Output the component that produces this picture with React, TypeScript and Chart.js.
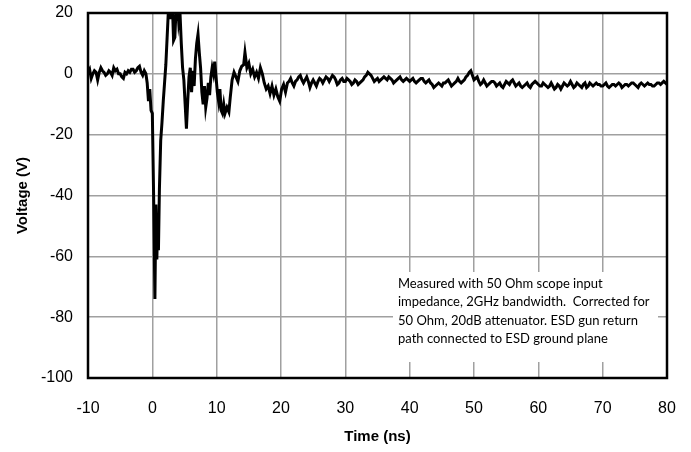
import React, { useEffect, useRef } from "react";
import { Chart, registerables } from "chart.js";

Chart.register(...registerables);

// ---- data ----
const preTimes = [
  -10, -9.75, -9.5, -9.25, -9, -8.75, -8.5, -8.25, -8, -7.75, -7.5, -7.25, -7, -6.75, -6.5, -6.25, -6, -5.75,
  -5.5, -5.25, -5, -4.75, -4.5, -4.25, -4, -3.75, -3.5, -3.25, -3, -2.75, -2.5, -2.25, -2, -1.75, -1.5, -1.25,
];
const preVolts = [
  0.5, 1.5, -1.5, 0, 1, 0.5, -2, 0.5, 2, 1, 0.5, -0.5, 0, 1, 0.5, -0.5, 2, 1,
  1.5, 0, 0, -1, -1.5, 0.5, 0, 1, 0.5, 1.5, 1.5, 0.5, 1, 2, 2.5, 0.5, -0.5, 1,
];

const eventTimes = [
  -1.0, -0.8, -0.6, -0.4, -0.2, 0.0, 0.2, 0.4, 0.55, 0.7, 0.85, 0.95, 1.1, 1.3, 1.5, 1.7, 1.9, 2.1, 2.3, 2.5,
  2.7, 2.9, 3.1, 3.3, 3.5, 3.7, 3.9, 4.1, 4.3, 4.5, 4.7, 4.9, 5.1, 5.3, 5.5, 5.7, 5.9, 6.1, 6.3, 6.5,
  6.7, 6.9, 7.1, 7.3, 7.5, 7.7, 7.9, 8.1, 8.3, 8.5, 8.7, 8.9, 9.1, 9.3, 9.5, 9.7, 9.9, 10.1, 10.3, 10.5,
  10.7, 10.9, 11.1, 11.3, 11.6, 11.9, 12.1, 12.4, 12.7, 13.0, 13.3, 13.6, 13.9, 14.2, 14.4, 14.7, 15.0, 15.3, 15.6, 15.9,
  16.2, 16.5, 16.8, 17.1, 17.4, 17.7, 18.0, 18.3, 18.6, 18.9, 19.2, 19.5, 19.8, 20.1, 20.4, 20.7, 21.0,
];
const eventVolts = [
  0, -3, -9, -5, -12, -13, -40, -74, -43, -61, -47, -58, -38, -22, -16, -9, -3, 3, 12, 21,
  23, 18, 24, 11, 12, 22, 24, 17, 20, 10, 2, -2, -10, -18, -9, -1, 2, -6, 1, -4,
  5, 10, 13, 7, 2, -6, -10, -4, -11, -8, -3, -7, -1, 2, 0, 4, -1, -6, -9, -5,
  -12, -13, -10, -13, -11, -12.5, -8, -2, 0.5, -1, -2.5, 1, 2.5, 3, 7, 2, 3.5, 0, 1.5, -1,
  0.5, -1.5, 2, 0, -3, -5, -4, -6.5, -4, -7, -5, -7.5, -9, -5, -3.5, -6, -3,
];

const tailTimes = [
  21.25, 21.5, 21.75, 22, 22.25, 22.5, 22.75, 23, 23.25, 23.5, 23.75, 24, 24.25, 24.5, 24.75, 25, 25.25, 25.5, 25.75, 26,
  26.25, 26.5, 26.75, 27, 27.25, 27.5, 27.75, 28, 28.25, 28.5, 28.75, 29, 29.25, 29.5, 29.75, 30, 30.25, 30.5, 30.75, 31,
  31.25, 31.5, 31.75, 32, 32.25, 32.5, 32.75, 33, 33.25, 33.5, 33.75, 34, 34.25, 34.5, 34.75, 35, 35.25, 35.5, 35.75, 36,
  36.25, 36.5, 36.75, 37, 37.25, 37.5, 37.75, 38, 38.25, 38.5, 38.75, 39, 39.25, 39.5, 39.75, 40, 40.25, 40.5, 40.75, 41,
  41.25, 41.5, 41.75, 42, 42.25, 42.5, 42.75, 43, 43.25, 43.5, 43.75, 44, 44.25, 44.5, 44.75, 45, 45.25, 45.5, 45.75, 46,
  46.25, 46.5, 46.75, 47, 47.25, 47.5, 47.75, 48, 48.25, 48.5, 48.75, 49, 49.25, 49.5, 49.75, 50, 50.25, 50.5, 50.75, 51,
  51.25, 51.5, 51.75, 52, 52.25, 52.5, 52.75, 53, 53.25, 53.5, 53.75, 54, 54.25, 54.5, 54.75, 55, 55.25, 55.5, 55.75, 56,
  56.25, 56.5, 56.75, 57, 57.25, 57.5, 57.75, 58, 58.25, 58.5, 58.75, 59, 59.25, 59.5, 59.75, 60, 60.25, 60.5, 60.75, 61,
  61.25, 61.5, 61.75, 62, 62.25, 62.5, 62.75, 63, 63.25, 63.5, 63.75, 64, 64.25, 64.5, 64.75, 65, 65.25, 65.5, 65.75, 66,
  66.25, 66.5, 66.75, 67, 67.25, 67.5, 67.75, 68, 68.25, 68.5, 68.75, 69, 69.25, 69.5, 69.75, 70, 70.25, 70.5, 70.75, 71,
  71.25, 71.5, 71.75, 72, 72.25, 72.5, 72.75, 73, 73.25, 73.5, 73.75, 74, 74.25, 74.5, 74.75, 75, 75.25, 75.5, 75.75, 76,
  76.25, 76.5, 76.75, 77, 77.25, 77.5, 77.75, 78, 78.25, 78.5, 78.75, 79, 79.25, 79.5, 79.75, 80,
];
const tailVolts = [
  -2.5, -1.5, -3, -4, -2.5, -2, -1, -0.5, -2, -3, -2, -1, -2.5, -4.5, -3, -2, -3, -4, -2.5, -1.5,
  -2, -3, -2, -1, -1.5, -2.5, -1.5, -0.5, -1, -2, -3.5, -3, -2, -1.5, -2.5, -2.5, -1.5, -2, -2.5, -3.5,
  -3, -2, -2.5, -3.5, -3, -2.5, -2, -1, -0.5, 0.5, 0, -0.5, -1.5, -2.5, -2, -1.5, -2.5, -2, -1.5, -1,
  -1.5, -2, -1, -1.5, -2, -3, -2.5, -2, -1.5, -1, -2, -2.5, -2, -1.5, -2, -2.5, -2, -1.5, -2.5, -3,
  -2.5, -2, -1.5, -1.5, -2.5, -3, -2.5, -2, -3, -3.5, -4.5, -4, -3.5, -3, -3.5, -4, -3, -3, -2.5, -2,
  -3, -4, -3.5, -3, -2.5, -1.5, -2.5, -3, -2.5, -2, -1, -0.5, 0.5, 1, -0.5, -2, -1.5, -1, -2.5, -3.5,
  -3, -2, -3, -4, -3.5, -3, -2.5, -2.5, -3, -4, -3.5, -3, -4, -4.5, -3.5, -2.5, -3, -3.5, -2.5, -2,
  -3, -4, -3.5, -3, -4, -4.5, -4, -3.5, -3, -4, -4.5, -3.5, -3, -2.5, -3, -3.5, -4, -4, -3, -3.5,
  -4, -4.5, -4, -3, -4, -5, -4.5, -3.5, -4, -5, -4, -3, -3.5, -4, -3.5, -2.5, -3.5, -4.5, -4, -3,
  -3.5, -4, -4.5, -3.5, -3, -4.5, -4, -3, -3.5, -4, -3.5, -3, -3.5, -3.5, -4, -4, -3.5, -3, -4, -4.5,
  -4, -3.5, -3.5, -4, -3.5, -3, -3.5, -4.5, -4, -3.5, -3.5, -4, -3.5, -3, -3, -3.5, -4, -4.5, -3.5, -3,
  -3.5, -4, -3.5, -3, -3.5, -3.5, -4, -4, -3.5, -3, -3, -3.5, -3, -2.5, -3, -3.5,
];

const xTicks = [-10, 0, 10, 20, 30, 40, 50, 60, 70, 80];
const yTicks = [-100, -80, -60, -40, -20, 0, 20];

const noteLines = [
  "Measured with 50 Ohm scope input",
  "impedance, 2GHz bandwidth.  Corrected for",
  "50 Ohm, 20dB attenuator. ESD gun return",
  "path connected to ESD ground plane",
];

const TICK_FONT = "'Liberation Sans', Arial, sans-serif";

export default function App() {
  const ref = useRef<HTMLCanvasElement | null>(null);

  useEffect(() => {
    if (!ref.current) return;
    const times = [...preTimes, ...eventTimes, ...tailTimes];
    const volts = [...preVolts, ...eventVolts, ...tailVolts];
    const points = times.map((t, i) => ({ x: t, y: volts[i] }));

    const notePlugin = {
      id: "note",
      beforeDatasetsDraw(chart: any) {
        const { ctx, chartArea: ca } = chart;
        ctx.save();
        ctx.fillStyle = "#ffffff";
        const left = ca.left + 305;
        const right = ca.right - 9;
        const top = ca.top + 259;
        const bottom = ca.bottom - 16;
        ctx.fillRect(left, top, right - left, bottom - top);
        ctx.fillStyle = "#000";
        ctx.font = "13px Lato, 'Noto Sans', sans-serif";
        ctx.textBaseline = "middle";
        ctx.textAlign = "left";
        noteLines.forEach((line, i) => {
          ctx.fillText(line, left + 5, top + 12 + i * 18.3);
        });
        ctx.restore();
      },
    };

    const framePlugin = {
      id: "frame",
      afterDatasetsDraw(chart: any) {
        const { ctx, chartArea: ca } = chart;
        ctx.save();
        ctx.strokeStyle = "#000";
        ctx.lineWidth = 2.5;
        ctx.strokeRect(ca.left, ca.top, ca.right - ca.left, ca.bottom - ca.top);
        ctx.restore();
      },
    };

    const chart = new Chart(ref.current, {
      type: "line",
      data: {
        datasets: [
          {
            data: points,
            borderColor: "#000",
            borderWidth: 3,
            pointRadius: 0,
            tension: 0,
            fill: false,
            clip: 0,
          } as any,
        ],
      },
      options: {
        animation: false,
        responsive: false,
        maintainAspectRatio: false,
        layout: { padding: { top: 13, right: 24, left: 0, bottom: 0 } },
        plugins: { legend: { display: false }, tooltip: { enabled: false } },
        scales: {
          x: {
            type: "linear",
            min: -10,
            max: 80,
            afterBuildTicks: (scale: any) => {
              scale.ticks = xTicks.map((v) => ({ value: v }));
            },
            afterFit: (scale: any) => {
              scale.height = 74;
              scale.paddingLeft = 0;
              scale.paddingRight = 0;
            },
            grid: { color: "#a0a0a0", lineWidth: 1.5, drawTicks: false },
            border: { display: false },
            ticks: {
              padding: 21,
              color: "#000",
              font: { family: TICK_FONT, size: 16 },
              maxRotation: 0,
              autoSkip: false,
            },
            title: {
              display: true,
              text: "Time (ns)",
              color: "#000",
              font: { family: TICK_FONT, size: 15, weight: "bold" },
              padding: { top: 0, bottom: 6 },
            },
          },
          y: {
            type: "linear",
            min: -100,
            max: 20,
            afterBuildTicks: (scale: any) => {
              scale.ticks = yTicks.map((v) => ({ value: v }));
            },
            afterFit: (scale: any) => {
              scale.width = 88;
              scale.paddingTop = 0;
              scale.paddingBottom = 0;
            },
            grid: { color: "#a0a0a0", lineWidth: 1.5, drawTicks: false },
            border: { display: false },
            ticks: {
              padding: 15,
              color: "#000",
              font: { family: TICK_FONT, size: 16 },
              autoSkip: false,
            },
            title: {
              display: true,
              text: "Voltage (V)",
              color: "#000",
              font: { family: TICK_FONT, size: 15, weight: "bold" },
              padding: { top: 14, bottom: 0 },
            },
          },
        },
      },
      plugins: [notePlugin, framePlugin],
    });
    return () => chart.destroy();
  }, []);

  return (
    <div style={{ position: "fixed", left: 0, top: 0, width: 691, height: 452, background: "#fff" }}>
      <canvas ref={ref} width={691} height={452} style={{ display: "block" }} />
    </div>
  );
}
